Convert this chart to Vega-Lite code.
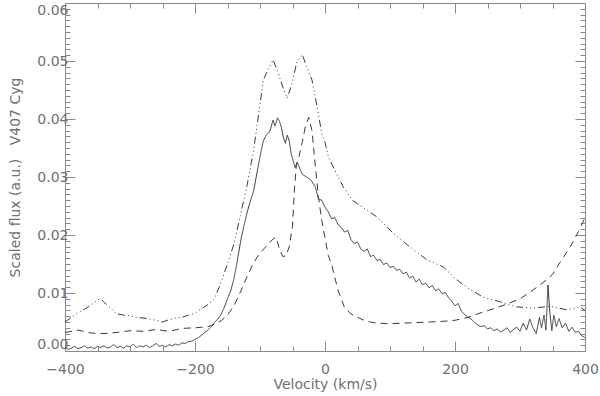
{
 "$schema": "https://vega.github.io/schema/vega-lite/v6.json",
 "width": 520, "height": 348,
 "autosize": "none",
 "padding": {"left": 65, "top": 3, "right": 15, "bottom": 45},
 "background": "white",
 "config": {
  "view": {"stroke": "#8a8a8a", "strokeWidth": 1},
  "axis": {"domain": false, "grid": false, "labelFont": "DejaVu Sans", "labelFontSize": 14, "labelColor": "#707070", "titleFont": "DejaVu Sans", "titleFontSize": 14, "titleFontWeight": "normal", "titleColor": "#707070", "tickColor": "#8a8a8a", "tickWidth": 1, "labelOverlap": false}
 },
 "data": {"values": [
  {"s":"a","v":-400,"f":0.0006},{"s":"a","v":-395,"f":0.0003},{"s":"a","v":-390,"f":0.0005},{"s":"a","v":-385,"f":0.0008},{"s":"a","v":-380,"f":0.0004},{"s":"a","v":-375,"f":0.0006},{"s":"a","v":-370,"f":0.0009},{"s":"a","v":-365,"f":0.0005},{"s":"a","v":-360,"f":0.0007},{"s":"a","v":-355,"f":0.0004},{"s":"a","v":-350,"f":0.0008},{"s":"a","v":-345,"f":0.0006},{"s":"a","v":-340,"f":0.0009},{"s":"a","v":-335,"f":0.0005},{"s":"a","v":-330,"f":0.0007},{"s":"a","v":-325,"f":0.0011},{"s":"a","v":-320,"f":0.0006},{"s":"a","v":-315,"f":0.0008},{"s":"a","v":-310,"f":0.0005},{"s":"a","v":-305,"f":0.0009},{"s":"a","v":-300,"f":0.0007},{"s":"a","v":-295,"f":0.0012},{"s":"a","v":-290,"f":0.0006},{"s":"a","v":-285,"f":0.0009},{"s":"a","v":-280,"f":0.0007},{"s":"a","v":-275,"f":0.0010},{"s":"a","v":-270,"f":0.0006},{"s":"a","v":-265,"f":0.0009},{"s":"a","v":-260,"f":0.0013},{"s":"a","v":-255,"f":0.0008},{"s":"a","v":-250,"f":0.0010},{"s":"a","v":-245,"f":0.0007},{"s":"a","v":-240,"f":0.0011},{"s":"a","v":-235,"f":0.0009},{"s":"a","v":-230,"f":0.0012},{"s":"a","v":-225,"f":0.0010},{"s":"a","v":-220,"f":0.0014},{"s":"a","v":-215,"f":0.0013},{"s":"a","v":-210,"f":0.0016},{"s":"a","v":-205,"f":0.0017},{"s":"a","v":-200,"f":0.0020},{"s":"a","v":-195,"f":0.0023},{"s":"a","v":-190,"f":0.0027},{"s":"a","v":-185,"f":0.0032},{"s":"a","v":-180,"f":0.0036},{"s":"a","v":-175,"f":0.0042},{"s":"a","v":-170,"f":0.0049},{"s":"a","v":-165,"f":0.0055},{"s":"a","v":-160,"f":0.0063},{"s":"a","v":-155,"f":0.0075},{"s":"a","v":-150,"f":0.0090},{"s":"a","v":-145,"f":0.0104},{"s":"a","v":-140,"f":0.0125},{"s":"a","v":-135,"f":0.0155},{"s":"a","v":-130,"f":0.0188},{"s":"a","v":-125,"f":0.0215},{"s":"a","v":-120,"f":0.0238},{"s":"a","v":-115,"f":0.0258},{"s":"a","v":-110,"f":0.0275},{"s":"a","v":-105,"f":0.0305},{"s":"a","v":-100,"f":0.0335},{"s":"a","v":-95,"f":0.0362},{"s":"a","v":-90,"f":0.0373},{"s":"a","v":-85,"f":0.0378},{"s":"a","v":-80,"f":0.0398},{"s":"a","v":-77,"f":0.0388},{"s":"a","v":-73,"f":0.0402},{"s":"a","v":-70,"f":0.0396},{"s":"a","v":-67,"f":0.0385},{"s":"a","v":-64,"f":0.0368},{"s":"a","v":-61,"f":0.0358},{"s":"a","v":-58,"f":0.0372},{"s":"a","v":-55,"f":0.0362},{"s":"a","v":-52,"f":0.0340},{"s":"a","v":-49,"f":0.0328},{"s":"a","v":-46,"f":0.0316},{"s":"a","v":-43,"f":0.0325},{"s":"a","v":-40,"f":0.0318},{"s":"a","v":-35,"f":0.0305},{"s":"a","v":-30,"f":0.0301},{"s":"a","v":-25,"f":0.0298},{"s":"a","v":-20,"f":0.0292},{"s":"a","v":-15,"f":0.0283},{"s":"a","v":-10,"f":0.0262},{"s":"a","v":-5,"f":0.0260},{"s":"a","v":0,"f":0.0248},{"s":"a","v":5,"f":0.0240},{"s":"a","v":10,"f":0.0228},{"s":"a","v":15,"f":0.0230},{"s":"a","v":20,"f":0.0218},{"s":"a","v":25,"f":0.0213},{"s":"a","v":30,"f":0.0205},{"s":"a","v":35,"f":0.0208},{"s":"a","v":40,"f":0.0192},{"s":"a","v":45,"f":0.0185},{"s":"a","v":50,"f":0.0188},{"s":"a","v":55,"f":0.0176},{"s":"a","v":60,"f":0.0172},{"s":"a","v":65,"f":0.0176},{"s":"a","v":70,"f":0.0163},{"s":"a","v":75,"f":0.0165},{"s":"a","v":80,"f":0.0156},{"s":"a","v":85,"f":0.0158},{"s":"a","v":90,"f":0.0149},{"s":"a","v":95,"f":0.0152},{"s":"a","v":100,"f":0.0144},{"s":"a","v":105,"f":0.0146},{"s":"a","v":110,"f":0.0139},{"s":"a","v":115,"f":0.0141},{"s":"a","v":120,"f":0.0133},{"s":"a","v":125,"f":0.0136},{"s":"a","v":130,"f":0.0126},{"s":"a","v":135,"f":0.0129},{"s":"a","v":140,"f":0.0119},{"s":"a","v":145,"f":0.0124},{"s":"a","v":150,"f":0.0114},{"s":"a","v":155,"f":0.0117},{"s":"a","v":160,"f":0.0109},{"s":"a","v":165,"f":0.0113},{"s":"a","v":170,"f":0.0104},{"s":"a","v":175,"f":0.0107},{"s":"a","v":180,"f":0.0099},{"s":"a","v":185,"f":0.0101},{"s":"a","v":190,"f":0.0092},{"s":"a","v":195,"f":0.0086},{"s":"a","v":200,"f":0.0078},{"s":"a","v":205,"f":0.0082},{"s":"a","v":210,"f":0.0068},{"s":"a","v":215,"f":0.0063},{"s":"a","v":220,"f":0.0058},{"s":"a","v":225,"f":0.0055},{"s":"a","v":230,"f":0.0049},{"s":"a","v":235,"f":0.0045},{"s":"a","v":240,"f":0.0042},{"s":"a","v":245,"f":0.0044},{"s":"a","v":250,"f":0.0038},{"s":"a","v":255,"f":0.0040},{"s":"a","v":260,"f":0.0035},{"s":"a","v":265,"f":0.0038},{"s":"a","v":270,"f":0.0033},{"s":"a","v":275,"f":0.0036},{"s":"a","v":280,"f":0.0040},{"s":"a","v":285,"f":0.0032},{"s":"a","v":290,"f":0.0037},{"s":"a","v":295,"f":0.0041},{"s":"a","v":300,"f":0.0034},{"s":"a","v":305,"f":0.0048},{"s":"a","v":310,"f":0.0036},{"s":"a","v":315,"f":0.0055},{"s":"a","v":320,"f":0.0040},{"s":"a","v":325,"f":0.0030},{"s":"a","v":330,"f":0.0058},{"s":"a","v":333,"f":0.0040},{"s":"a","v":337,"f":0.0062},{"s":"a","v":340,"f":0.0036},{"s":"a","v":343,"f":0.0114},{"s":"a","v":346,"f":0.0065},{"s":"a","v":349,"f":0.0035},{"s":"a","v":352,"f":0.0062},{"s":"a","v":356,"f":0.0042},{"s":"a","v":360,"f":0.0056},{"s":"a","v":365,"f":0.0040},{"s":"a","v":370,"f":0.0048},{"s":"a","v":375,"f":0.0034},{"s":"a","v":380,"f":0.0041},{"s":"a","v":385,"f":0.0032},{"s":"a","v":390,"f":0.0034},{"s":"a","v":395,"f":0.0026},{"s":"a","v":400,"f":0.0023},
  {"s":"b","v":-400,"f":0.0032},{"s":"b","v":-380,"f":0.0036},{"s":"b","v":-360,"f":0.0031},{"s":"b","v":-340,"f":0.0030},{"s":"b","v":-320,"f":0.0032},{"s":"b","v":-300,"f":0.0035},{"s":"b","v":-280,"f":0.0034},{"s":"b","v":-260,"f":0.0037},{"s":"b","v":-240,"f":0.0034},{"s":"b","v":-220,"f":0.0039},{"s":"b","v":-200,"f":0.0040},{"s":"b","v":-180,"f":0.0042},{"s":"b","v":-170,"f":0.0046},{"s":"b","v":-160,"f":0.0052},{"s":"b","v":-150,"f":0.0062},{"s":"b","v":-140,"f":0.0078},{"s":"b","v":-130,"f":0.0102},{"s":"b","v":-120,"f":0.0128},{"s":"b","v":-110,"f":0.0152},{"s":"b","v":-100,"f":0.0169},{"s":"b","v":-90,"f":0.0181},{"s":"b","v":-80,"f":0.0193},{"s":"b","v":-75,"f":0.0196},{"s":"b","v":-70,"f":0.0175},{"s":"b","v":-65,"f":0.0163},{"s":"b","v":-60,"f":0.0164},{"s":"b","v":-55,"f":0.0180},{"s":"b","v":-50,"f":0.0215},{"s":"b","v":-47,"f":0.0280},{"s":"b","v":-44,"f":0.0320},{"s":"b","v":-40,"f":0.0335},{"s":"b","v":-35,"f":0.0360},{"s":"b","v":-30,"f":0.0388},{"s":"b","v":-25,"f":0.0403},{"s":"b","v":-20,"f":0.0380},{"s":"b","v":-15,"f":0.0320},{"s":"b","v":-10,"f":0.0265},{"s":"b","v":-5,"f":0.0225},{"s":"b","v":0,"f":0.0195},{"s":"b","v":5,"f":0.0165},{"s":"b","v":10,"f":0.0150},{"s":"b","v":20,"f":0.0105},{"s":"b","v":30,"f":0.0075},{"s":"b","v":40,"f":0.0064},{"s":"b","v":50,"f":0.0058},{"s":"b","v":60,"f":0.0053},{"s":"b","v":70,"f":0.0050},{"s":"b","v":80,"f":0.0048},{"s":"b","v":100,"f":0.0047},{"s":"b","v":120,"f":0.0048},{"s":"b","v":140,"f":0.0049},{"s":"b","v":160,"f":0.0050},{"s":"b","v":180,"f":0.0051},{"s":"b","v":200,"f":0.0053},{"s":"b","v":220,"f":0.0058},{"s":"b","v":240,"f":0.0066},{"s":"b","v":260,"f":0.0073},{"s":"b","v":280,"f":0.0081},{"s":"b","v":300,"f":0.0090},{"s":"b","v":320,"f":0.0105},{"s":"b","v":340,"f":0.0122},{"s":"b","v":350,"f":0.0132},{"s":"b","v":360,"f":0.0150},{"s":"b","v":370,"f":0.0167},{"s":"b","v":380,"f":0.0185},{"s":"b","v":390,"f":0.0206},{"s":"b","v":400,"f":0.0230},
  {"s":"c","v":-400,"f":0.0050},{"s":"c","v":-390,"f":0.0058},{"s":"c","v":-380,"f":0.0066},{"s":"c","v":-370,"f":0.0072},{"s":"c","v":-360,"f":0.0079},{"s":"c","v":-350,"f":0.0088},{"s":"c","v":-345,"f":0.0090},{"s":"c","v":-340,"f":0.0084},{"s":"c","v":-330,"f":0.0074},{"s":"c","v":-320,"f":0.0064},{"s":"c","v":-310,"f":0.0062},{"s":"c","v":-300,"f":0.0061},{"s":"c","v":-290,"f":0.0058},{"s":"c","v":-280,"f":0.0057},{"s":"c","v":-270,"f":0.0055},{"s":"c","v":-260,"f":0.0053},{"s":"c","v":-250,"f":0.0050},{"s":"c","v":-240,"f":0.0054},{"s":"c","v":-230,"f":0.0057},{"s":"c","v":-220,"f":0.0058},{"s":"c","v":-210,"f":0.0062},{"s":"c","v":-200,"f":0.0065},{"s":"c","v":-190,"f":0.0073},{"s":"c","v":-180,"f":0.0080},{"s":"c","v":-170,"f":0.0090},{"s":"c","v":-160,"f":0.0118},{"s":"c","v":-150,"f":0.0150},{"s":"c","v":-140,"f":0.0185},{"s":"c","v":-130,"f":0.0235},{"s":"c","v":-120,"f":0.0285},{"s":"c","v":-110,"f":0.0345},{"s":"c","v":-100,"f":0.0425},{"s":"c","v":-95,"f":0.0467},{"s":"c","v":-88,"f":0.0484},{"s":"c","v":-80,"f":0.0502},{"s":"c","v":-72,"f":0.0480},{"s":"c","v":-65,"f":0.0455},{"s":"c","v":-58,"f":0.0436},{"s":"c","v":-51,"f":0.0460},{"s":"c","v":-43,"f":0.0500},{"s":"c","v":-35,"f":0.0511},{"s":"c","v":-28,"f":0.0490},{"s":"c","v":-20,"f":0.0467},{"s":"c","v":-12,"f":0.0420},{"s":"c","v":-5,"f":0.0375},{"s":"c","v":0,"f":0.0360},{"s":"c","v":5,"f":0.0335},{"s":"c","v":15,"f":0.0312},{"s":"c","v":28,"f":0.0283},{"s":"c","v":42,"f":0.0260},{"s":"c","v":58,"f":0.0248},{"s":"c","v":80,"f":0.0231},{"s":"c","v":105,"f":0.0203},{"s":"c","v":130,"f":0.0180},{"s":"c","v":157,"f":0.0157},{"s":"c","v":182,"f":0.0145},{"s":"c","v":200,"f":0.0125},{"s":"c","v":218,"f":0.0110},{"s":"c","v":243,"f":0.0093},{"s":"c","v":269,"f":0.0085},{"s":"c","v":295,"f":0.0076},{"s":"c","v":320,"f":0.0074},{"s":"c","v":346,"f":0.0077},{"s":"c","v":372,"f":0.0071},{"s":"c","v":392,"f":0.0076},{"s":"c","v":400,"f":0.0070}
 ]},
 "layer": [
  {
   "mark": {"type": "line", "strokeWidth": 1, "color": "#3a3a3a"},
   "encoding": {
    "x": {"field": "v", "type": "quantitative", "scale": {"domain": [-400, 400], "nice": false, "zero": false},
     "axis": {"orient": "bottom", "title": "Velocity (km/s)", "values": [-400,-350,-300,-250,-200,-150,-100,-50,0,50,100,150,200,250,300,350,400],
      "labelExpr": "datum.value % 200 === 0 ? format(datum.value, 'd') : ''", "labelFlush": false,
      "tickSize": {"condition": {"test": "datum.value % 200 === 0", "value": -10}, "value": -5},
      "labelPadding": 21, "titleY": 37, "titleBaseline": "alphabetic"}},
    "y": {"field": "f", "type": "quantitative", "scale": {"domain": [0, 0.06], "nice": false, "zero": false},
     "axis": {"orient": "left", "title": "Scaled flux (a.u.)\u00a0\u00a0\u00a0V407 Cyg",
      "values": [0,0.001,0.002,0.003,0.004,0.005,0.006,0.007,0.008,0.009,0.01,0.011,0.012,0.013,0.014,0.015,0.016,0.017,0.018,0.019,0.02,0.021,0.022,0.023,0.024,0.025,0.026,0.027,0.028,0.029,0.03,0.031,0.032,0.033,0.034,0.035,0.036,0.037,0.038,0.039,0.04,0.041,0.042,0.043,0.044,0.045,0.046,0.047,0.048,0.049,0.05,0.051,0.052,0.053,0.054,0.055,0.056,0.057,0.058,0.059,0.06],
      "labelExpr": "round(datum.value * 1000) % 10 === 0 ? format(datum.value, '.2f') : ''", "labelFlush": true,
      "tickSize": {"condition": {"test": "round(datum.value * 1000) % 10 === 0", "value": -10}, "value": -5},
      "labelPadding": 7, "titlePadding": 14}},
    "strokeDash": {"field": "s", "type": "nominal", "scale": {"domain": ["a", "b", "c"], "range": [[1, 0], [7, 5], [7, 3, 1, 3, 1, 3, 1, 3]]}, "legend": null}
   }
  },
  {
   "mark": {"type": "point", "opacity": 0},
   "encoding": {
    "x": {"field": "v", "type": "quantitative", "scale": {"domain": [-400, 400], "nice": false, "zero": false},
     "axis": {"orient": "top", "title": null, "labels": false, "values": [-400,-350,-300,-250,-200,-150,-100,-50,0,50,100,150,200,250,300,350,400],
      "tickSize": {"condition": {"test": "datum.value % 200 === 0", "value": -10}, "value": -5}}},
    "y": {"field": "f", "type": "quantitative", "scale": {"domain": [0, 0.06], "nice": false, "zero": false},
     "axis": {"orient": "right", "title": null, "labels": false,
      "values": [0,0.001,0.002,0.003,0.004,0.005,0.006,0.007,0.008,0.009,0.01,0.011,0.012,0.013,0.014,0.015,0.016,0.017,0.018,0.019,0.02,0.021,0.022,0.023,0.024,0.025,0.026,0.027,0.028,0.029,0.03,0.031,0.032,0.033,0.034,0.035,0.036,0.037,0.038,0.039,0.04,0.041,0.042,0.043,0.044,0.045,0.046,0.047,0.048,0.049,0.05,0.051,0.052,0.053,0.054,0.055,0.056,0.057,0.058,0.059,0.06],
      "tickSize": {"condition": {"test": "round(datum.value * 1000) % 10 === 0", "value": -10}, "value": -5}}}
   }
  }
 ]
}
